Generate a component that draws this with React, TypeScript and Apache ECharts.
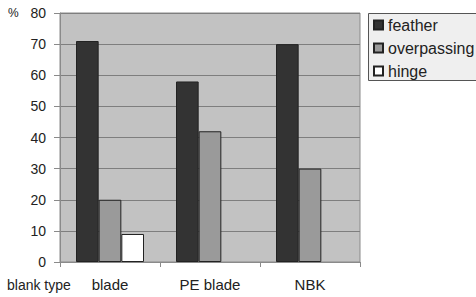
import React, { useEffect, useRef } from "react";
import * as echarts from "echarts";

const categories = ["blade", "PE blade", "NBK"];
const feather = [71, 58, 70];
const overpassing = [20, 42, 30];
const hinge: (number | null)[] = [9, null, null];
const yTicks = [0, 10, 20, 30, 40, 50, 60, 70, 80];

export default function App() {
  const ref = useRef<HTMLDivElement>(null);
  useEffect(() => {
    const chart = echarts.init(ref.current!, null, { renderer: "svg" });
    const font = "Liberation Sans, Arial, sans-serif";
    chart.setOption({
      animation: false,
      textStyle: { fontFamily: font },
      grid: {
        left: 60,
        top: 13,
        width: 300,
        height: 249,
        show: true,
        backgroundColor: "#c2c2c2",
        borderColor: "#8a8a8a",
        borderWidth: 1,
      },
      legend: {
        orient: "vertical",
        left: 368,
        top: 14,
        z: 5,
        icon: "rect",
        itemWidth: 9,
        itemHeight: 9,
        itemGap: 7,
        padding: [3, 10, 1, 5],
        textStyle: { fontSize: 16, color: "#222", fontFamily: font },
        data: ["feather", "overpassing", "hinge"],
      },
      xAxis: {
        type: "category",
        data: categories,
        axisLine: { show: true, lineStyle: { color: "#8a8a8a" } },
        axisTick: { show: true, length: 5, lineStyle: { color: "#8a8a8a" } },
        axisLabel: { fontSize: 15, color: "#222", margin: 15, fontFamily: font },
      },
      yAxis: {
        type: "value",
        min: 0,
        max: 80,
        interval: 10,
        axisLine: { show: true, lineStyle: { color: "#8a8a8a" } },
        axisTick: { show: true, length: 6, lineStyle: { color: "#8a8a8a" } },
        axisLabel: {
          fontSize: 14,
          color: "#222",
          margin: 14,
          fontFamily: font,
          formatter: (v: number) => (yTicks.includes(v) ? String(v) : ""),
        },
        splitLine: { show: true, lineStyle: { color: "#7e7e7e", width: 1 } },
      },
      series: [
        {
          name: "feather",
          type: "bar",
          data: feather,
          barGap: "0%",
          barCategoryGap: "32%",
          itemStyle: { color: "#333333", borderColor: "#222", borderWidth: 1 },
        },
        {
          name: "overpassing",
          type: "bar",
          data: overpassing,
          itemStyle: { color: "#9a9a9a", borderColor: "#222", borderWidth: 1 },
        },
        {
          name: "hinge",
          type: "bar",
          data: hinge,
          itemStyle: { color: "#ffffff", borderColor: "#222", borderWidth: 1 },
        },
      ],
      graphic: [
        {
          type: "rect",
          z: 1,
          shape: { x: 368.5, y: 13.5, width: 130, height: 67 },
          style: { fill: "#efefef", stroke: "#555", lineWidth: 1 },
        },
        {
          type: "text",
          left: 8,
          top: 7,
          style: { text: "%", fontSize: 12, fill: "#222", fontFamily: font },
        },
        {
          type: "text",
          left: 7,
          top: 278,
          style: { text: "blank type", fontSize: 14, fill: "#222", fontFamily: font },
        },
      ],
    });
    return () => chart.dispose();
  }, []);
  return <div ref={ref} style={{ width: 476, height: 297, position: "absolute", left: 0, top: 0 }} />;
}
